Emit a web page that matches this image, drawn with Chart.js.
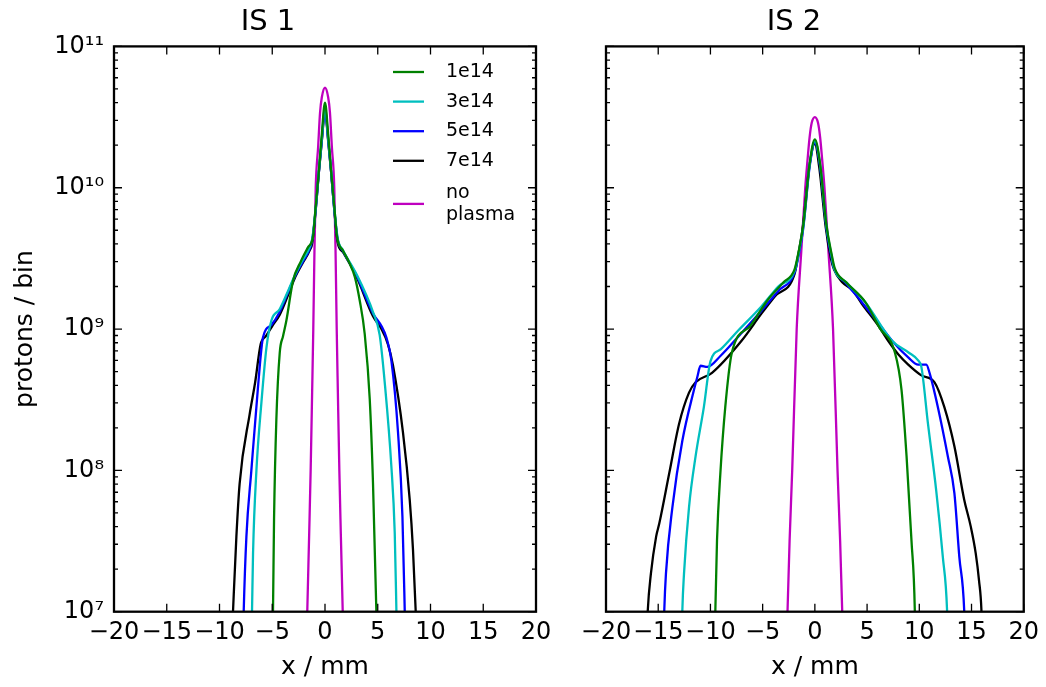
<!DOCTYPE html>
<html>
<head>
<meta charset="utf-8">
<script src="https://cdn.jsdelivr.net/npm/chart.js@4.4.0/dist/chart.umd.min.js"></script>
<style>
body { margin: 0; background: #fff; }
#wrap { position: relative; width: 1046px; height: 687px; }
canvas { position: absolute; top: 0; }
#is1 { left: 0; }
#is2 { left: 560px; }
</style>
</head>
<body>
<div id="wrap">
  <canvas id="is1" width="560" height="687"></canvas>
  <canvas id="is2" width="486" height="687"></canvas>
</div>
<script>
// series labels and colours (1e14 .. 7e14 plasma densities, plus the no-plasma reference)
let seriesLabels = ["1e14", "3e14", "5e14", "7e14", "no plasma"]
let seriesColors = ["#008000", "#00bfbf", "#0000ff", "#000000", "#bf00bf"]

let xTicks = [-20, -15, -10, -5, 0, 5, 10, 15, 20]
let xTickText = ["\u221220", "\u221215", "\u221210", "\u22125", "0", "5", "10", "15", "20"]
let yMajorTicks = [1e7, 1e8, 1e9, 1e10, 1e11]
let yTickText = ["10\u2077", "10\u2078", "10\u2079", "10\u00b9\u2070", "10\u00b9\u00b9"]
let yMinorSteps = [2, 3, 4, 5, 6, 7, 8, 9]

// ---- IS 1 profiles (x in mm, protons per bin)
let is1_1e14_x = [-5.05, -4.93, -4.83, -4.61, -4.29, -3.98, -3.66, -3.03, -2.3, -1.6, -1.14, -0.9, -0.6, -0.3, 0, 0.3, 0.6, 0.9, 1.14, 1.7, 2.3, 2.82, 3.3, 3.76, 4.24, 4.55, 4.87, 5.0]
let is1_1e14_y = [3.2e6, 1.0e7, 4.5e7, 2.3e8, 6.8e8, 8.9e8, 1.15e9, 2.2e9, 3.0e9, 3.8e9, 4.5e9, 7.1e9, 1.26e10, 2.4e10, 4.0e10, 2.4e10, 1.26e10, 7.1e9, 4.5e9, 3.6e9, 2.95e9, 2.35e9, 1.58e9, 9.3e8, 3.2e8, 8.1e7, 1.0e7, 3.2e6]

let is1_3e14_x = [-7.05, -6.92, -6.82, -6.5, -6.03, -5.55, -5.08, -4.3, -3.5, -2.8, -2.1, -1.45, -1.2, -0.85, -0.58, -0.3, 0, 0.3, 0.58, 0.85, 1.2, 1.71, 2.98, 4.55, 5.18, 5.66, 6.29, 6.61, 6.77, 6.9]
let is1_3e14_y = [3.2e6, 9.8e6, 2.6e7, 1.0e8, 3.0e8, 7.4e8, 1.15e9, 1.38e9, 1.86e9, 2.45e9, 3.1e9, 3.8e9, 4.4e9, 7.6e9, 1.32e10, 2.24e10, 3.7e10, 2.24e10, 1.32e10, 7.6e9, 4.4e9, 3.6e9, 2.45e9, 1.32e9, 9.1e8, 4.2e8, 1.07e8, 3.6e7, 1.0e7, 3.2e6]

let is1_5e14_x = [-7.85, -7.71, -7.45, -6.98, -6.35, -5.88, -5.08, -4.3, -3.5, -2.8, -2.1, -1.45, -1.2, -0.85, -0.58, -0.3, 0, 0.3, 0.58, 0.85, 1.2, 1.71, 2.98, 4.55, 5.35, 5.82, 6.29, 6.92, 7.34, 7.56, 7.7]
let is1_5e14_y = [3.2e6, 9.8e6, 3.4e7, 1.0e8, 3.9e8, 8.7e8, 1.07e9, 1.32e9, 1.82e9, 2.4e9, 3.0e9, 3.7e9, 4.3e9, 7.4e9, 1.29e10, 2.19e10, 3.55e10, 2.19e10, 1.29e10, 7.4e9, 4.3e9, 3.55e9, 2.4e9, 1.29e9, 1.05e9, 8.7e8, 6.0e8, 1.86e8, 4.7e7, 1.0e7, 3.2e6]

let is1_7e14_x = [-9.0, -8.72, -8.4, -8.09, -7.14, -6.62, -6.1, -5.6, -5.0, -4.3, -3.5, -2.8, -2.1, -1.45, -1.2, -0.85, -0.58, -0.3, 0, 0.3, 0.58, 0.85, 1.2, 1.71, 2.98, 4.55, 5.35, 5.97, 6.45, 7.39, 8.03, 8.34, 8.6, 8.85]
let is1_7e14_y = [3.2e6, 1.0e7, 3.4e7, 8.1e7, 2.5e8, 4.2e8, 7.8e8, 8.9e8, 1.05e9, 1.26e9, 1.74e9, 2.35e9, 2.95e9, 3.6e9, 4.1e9, 7.4e9, 1.29e10, 2.14e10, 3.5e10, 2.14e10, 1.29e10, 7.4e9, 4.1e9, 3.5e9, 2.35e9, 1.23e9, 1.0e9, 7.8e8, 5.5e8, 1.86e8, 6.2e7, 2.75e7, 1.0e7, 3.2e6]

let is1_none_x = [-1.85, -1.68, -1.5, -1.36, -1.22, -1.11, -1.0, -0.88, -0.65, -0.47, -0.3, 0, 0.3, 0.47, 0.65, 0.88, 1.0, 1.11, 1.22, 1.36, 1.5, 1.68, 1.85]
let is1_none_y = [2.5e6, 1.0e7, 3.55e7, 1.0e8, 3.55e8, 1.0e9, 3.55e9, 1.0e10, 1.95e10, 3.4e10, 4.37e10, 5.1e10, 4.37e10, 3.4e10, 1.95e10, 1.0e10, 3.55e9, 1.0e9, 3.55e8, 1.0e8, 3.55e7, 1.0e7, 2.5e6]

// ---- IS 2 profiles
let is2_1e14_x = [-9.62, -9.53, -9.37, -9.05, -8.58, -7.95, -6.2, -4.48, -3.0, -1.95, -1.6, -1.1, -0.5, 0, 0.5, 1.1, 1.6, 1.9, 3.0, 4.83, 6.2, 7.67, 8.3, 8.78, 9.25, 9.57, 9.65]
let is2_1e14_y = [4.0e6, 1.02e7, 3.2e7, 9.5e7, 2.8e8, 6.8e8, 1.05e9, 1.62e9, 2.14e9, 2.63e9, 3.4e9, 5.5e9, 1.48e10, 2.2e10, 1.48e10, 5.5e9, 3.4e9, 2.7e9, 2.14e9, 1.55e9, 1.02e9, 6.8e8, 3.7e8, 1.26e8, 3.2e7, 1.02e7, 4.0e6]

let is2_3e14_x = [-12.8, -12.69, -12.53, -12.05, -11.42, -10.63, -10.0, -9.0, -7.32, -5.1, -3.5, -1.95, -1.6, -1.1, -0.5, 0, 0.5, 1.1, 1.6, 1.84, 3.0, 4.83, 7.36, 9.0, 9.89, 10.2, 10.83, 11.62, 12.25, 12.66, 12.8]
let is2_3e14_y = [4.0e6, 1.02e7, 1.86e7, 5.5e7, 1.26e8, 2.8e8, 5.9e8, 7.2e8, 9.8e8, 1.45e9, 2.0e9, 2.57e9, 3.3e9, 5.4e9, 1.45e10, 2.14e10, 1.45e10, 5.4e9, 3.3e9, 2.7e9, 2.14e9, 1.55e9, 8.3e8, 6.8e8, 6.0e8, 5.4e8, 2.14e8, 7.2e7, 2.45e7, 1.02e7, 4.0e6]

let is2_5e14_x = [-14.55, -14.42, -14.26, -13.64, -12.69, -11.58, -11.25, -10.95, -10.3, -9.0, -7.3, -5.1, -3.5, -1.95, -1.6, -1.1, -0.5, 0, 0.5, 1.1, 1.6, 1.84, 3.0, 4.5, 6.1, 7.5, 8.94, 9.89, 10.67, 10.98, 11.78, 12.73, 13.36, 13.83, 14.3, 14.45]
let is2_5e14_y = [4.0e6, 1.02e7, 1.86e7, 5.5e7, 1.62e8, 3.7e8, 4.6e8, 5.5e8, 5.4e8, 6.5e8, 8.9e8, 1.35e9, 1.86e9, 2.5e9, 3.2e9, 5.25e9, 1.41e10, 2.09e10, 1.41e10, 5.25e9, 3.2e9, 2.7e9, 2.1e9, 1.55e9, 1.1e9, 8.1e8, 6.3e8, 5.6e8, 5.6e8, 4.9e8, 2.8e8, 1.26e8, 6.9e7, 2.45e7, 1.02e7, 4.0e6]

let is2_7e14_x = [-16.2, -16.0, -15.7, -15.2, -14.9, -13.95, -13.0, -12.05, -11.42, -9.85, -7.0, -5.1, -3.84, -1.95, -1.64, -1.16, -0.53, 0, 0.41, 1.04, 1.52, 1.84, 2.62, 3.57, 4.5, 6.1, 7.0, 8.0, 8.94, 10.2, 11.46, 12.4, 13.36, 14.3, 14.93, 15.4, 15.72, 15.95, 16.1]
let is2_7e14_y = [4.0e6, 1.02e7, 1.86e7, 3.4e7, 4.2e7, 9.5e7, 2.14e8, 3.55e8, 4.2e8, 4.9e8, 8.3e8, 1.29e9, 1.7e9, 2.45e9, 3.2e9, 5.25e9, 1.41e10, 2.04e10, 1.41e10, 5.25e9, 3.2e9, 2.63e9, 2.14e9, 1.9e9, 1.51e9, 1.05e9, 8.3e8, 6.6e8, 5.6e8, 4.7e8, 4.2e8, 2.8e8, 1.48e8, 6.2e7, 4.0e7, 2.6e7, 1.66e7, 1.02e7, 4.0e6]

let is2_none_x = [-2.8, -2.62, -2.42, -2.17, -1.74, -1.3, -0.92, -0.7, -0.5, -0.3, 0, 0.3, 0.5, 0.7, 0.92, 1.3, 1.74, 2.17, 2.42, 2.62, 2.8]
let is2_none_y = [4.0e6, 1.0e7, 3.16e7, 1.0e8, 1.0e9, 3.55e9, 1.0e10, 1.58e10, 2.29e10, 2.88e10, 3.16e10, 2.88e10, 2.29e10, 1.58e10, 1.0e10, 3.55e9, 1.0e9, 1.0e8, 3.16e7, 1.0e7, 4.0e6]

let is1Series = [[is1_1e14_x, is1_1e14_y], [is1_3e14_x, is1_3e14_y], [is1_5e14_x, is1_5e14_y], [is1_7e14_x, is1_7e14_y], [is1_none_x, is1_none_y]]
let is2Series = [[is2_1e14_x, is2_1e14_y], [is2_3e14_x, is2_3e14_y], [is2_5e14_x, is2_5e14_y], [is2_7e14_x, is2_7e14_y], [is2_none_x, is2_none_y]]

Chart.defaults.font.family = "'DejaVu Sans', sans-serif"
Chart.defaults.color = "#000"

// minor log ticks 2..9 inside each decade
let yMinorTicks = []
for (let d of yMajorTicks.slice(0, -1)) {
    for (let m of yMinorSteps) yMinorTicks.push(d * m)
}

// box around the plot area plus inward tick marks on all four sides
const frameTicks = {
    id: "frameTicks",
    afterDatasetsDraw(chart) {
        let {ctx, chartArea: a, scales: {x, y}} = chart
        ctx.save()
        ctx.strokeStyle = "#000"
        ctx.lineWidth = 1.3
        ctx.beginPath()
        for (let v of xTicks) {
            let px = x.getPixelForValue(v)
            ctx.moveTo(px, a.bottom); ctx.lineTo(px, a.bottom - 8)
            ctx.moveTo(px, a.top); ctx.lineTo(px, a.top + 8)
        }
        for (let v of yMajorTicks) {
            let py = y.getPixelForValue(v)
            ctx.moveTo(a.left, py); ctx.lineTo(a.left + 8, py)
            ctx.moveTo(a.right, py); ctx.lineTo(a.right - 8, py)
        }
        for (let v of yMinorTicks) {
            let py = y.getPixelForValue(v)
            ctx.moveTo(a.left, py); ctx.lineTo(a.left + 4, py)
            ctx.moveTo(a.right, py); ctx.lineTo(a.right - 4, py)
        }
        ctx.stroke()
        ctx.lineWidth = 2.3
        ctx.strokeRect(a.left, a.top, a.right - a.left, a.bottom - a.top)
        ctx.restore()
    }
}

// frameless legend in the upper right of the first panel
const legendBox = {
    id: "legendBox",
    afterDraw(chart) {
        let ctx = chart.ctx
        ctx.save()
        ctx.font = "19px 'DejaVu Sans'"
        ctx.textBaseline = "middle"
        ctx.fillStyle = "#000"
        ctx.lineWidth = 2.3
        let cy = 72
        chart.data.datasets.forEach(ds => {
            let lines = ds.label.split(" ")
            let extra = (lines.length - 1) * 13.5
            cy += extra
            ctx.strokeStyle = ds.borderColor
            ctx.beginPath()
            ctx.moveTo(393, cy); ctx.lineTo(424, cy)
            ctx.stroke()
            lines.forEach((t, k) => {
                ctx.fillText(t, 446, cy - (lines.length - 1) * 10.75 + k * 21.5)
            })
            cy += 29.6 + extra
        })
        ctx.restore()
    }
}

function buildDatasets(series) {
    return series.map(([xs, ys], i) => ({
        label: seriesLabels[i],
        data: xs.map((v, k) => ({x: v, y: ys[k]})),
        borderColor: seriesColors[i],
        borderWidth: 2.3,
        pointRadius: 0,
        fill: false,
        cubicInterpolationMode: "monotone"
    }))
}

function createPanel(canvasId, title, series, yWidth, padRight, showY, extraPlugins) {
    return new Chart(document.getElementById(canvasId), {
        type: "line",
        data: {datasets: buildDatasets(series)},
        options: {
            responsive: false,
            animation: false,
            events: [],
            layout: {padding: {left: 0, right: padRight, top: 0, bottom: 0}},
            plugins: {
                legend: {display: false},
                tooltip: {enabled: false},
                title: {
                    display: true,
                    text: title,
                    font: {size: 29, weight: "normal"},
                    color: "#000",
                    padding: {top: 5, bottom: 6.6}
                }
            },
            scales: {
                x: {
                    type: "linear",
                    min: -20,
                    max: 20,
                    grid: {display: false, drawTicks: false},
                    border: {display: false},
                    afterBuildTicks: s => { s.ticks = xTicks.map(v => ({value: v})) },
                    ticks: {
                        font: {size: 24},
                        color: "#000",
                        padding: 7,
                        maxRotation: 0,
                        autoSkip: false,
                        callback: v => xTickText[xTicks.indexOf(v)]
                    },
                    title: {display: true, text: "x / mm", font: {size: 25}, color: "#000", padding: {top: 0, bottom: 5}},
                    afterFit: s => { s.height = 75.3 }
                },
                y: {
                    type: "logarithmic",
                    min: 1e7,
                    max: 1e11,
                    grid: {display: false, drawTicks: false},
                    border: {display: false},
                    afterBuildTicks: s => { s.ticks = yMajorTicks.map(v => ({value: v})) },
                    ticks: {
                        display: showY,
                        font: {size: 24},
                        color: "#000",
                        padding: 10,
                        autoSkip: false,
                        callback: v => yTickText[yMajorTicks.indexOf(v)]
                    },
                    title: {display: showY, text: "protons / bin", font: {size: 25}, color: "#000", padding: {top: 10, bottom: 0}},
                    afterFit: s => { s.width = yWidth }
                }
            }
        },
        plugins: [frameTicks].concat(extraPlugins)
    })
}

let is1Chart = createPanel("is1", "IS 1", is1Series, 114, 24, true, [legendBox])
let is2Chart = createPanel("is2", "IS 2", is2Series, 46, 18, false, [])
</script>
</body>
</html>
